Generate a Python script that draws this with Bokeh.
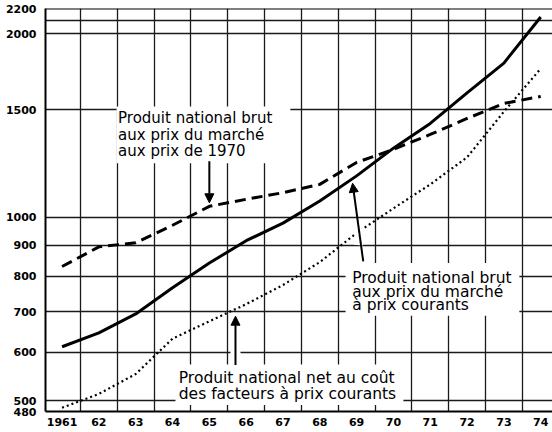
from bokeh.plotting import figure
from bokeh.models import FixedTicker, Label, BoxAnnotation, Arrow, NormalHead, Range1d, Span
from bokeh.embed import file_html
from bokeh.resources import INLINE

# ---- data ----
years = [1961, 1962, 1963, 1964, 1965, 1966, 1967, 1968, 1969, 1970, 1971, 1972, 1973, 1974]
year_labels = ["1961", "62", "63", "64", "65", "66", "67", "68", "69", "70", "71", "72", "73", "74"]
pnb_prix_courants = [613, 646, 694, 766, 841, 915, 978, 1063, 1169, 1298, 1425, 1600, 1790, 2130]
pnb_prix_1970 = [830, 894, 908, 970, 1042, 1070, 1097, 1132, 1230, 1292, 1367, 1452, 1537, 1578]
pnn_cout_facteurs = [487, 513, 553, 632, 675, 720, 774, 844, 942, 1034, 1132, 1254, 1490, 1753]
y_tick_values = [480, 500, 600, 700, 800, 900, 1000, 1500, 2000, 2200]
y_tick_labels = ["480", "500", "600", "700", "800", "900", "1000", "1500", "2000", "2200"]
y_grid_values = [500, 600, 700, 800, 900, 1000, 1500, 2000, 2100]
year_boundaries = [y + 0.5 for y in years[:-1]]

p = figure(width=552, height=432,
           x_range=Range1d(1960.55, 1974.32), y_range=Range1d(480, 2200),
           y_axis_type="log", output_backend="svg", toolbar_location=None,
           min_border_left=45, min_border_right=0, min_border_top=8, min_border_bottom=21)
p.background_fill_color = "white"
p.border_fill_color = "white"
p.outline_line_color = None

# grid
p.xgrid.ticker = FixedTicker(ticks=year_boundaries)
p.ygrid.ticker = FixedTicker(ticks=y_grid_values)
for g in (p.xgrid, p.ygrid):
    g.grid_line_color = "#1a1a1a"
    g.grid_line_width = 1.3

# axes
p.xaxis.ticker = FixedTicker(ticks=years)
p.xaxis.major_label_overrides = {y: l for y, l in zip(years, year_labels)}
p.yaxis.ticker = FixedTicker(ticks=y_tick_values)
p.yaxis.major_label_overrides = {v: l for v, l in zip(y_tick_values, y_tick_labels)}
for ax in (p.xaxis, p.yaxis):
    ax.axis_line_width = 2
    ax.axis_line_color = "black"
    ax.major_tick_in = 0
    ax.major_tick_out = 0
    ax.minor_tick_line_color = None
    ax.major_label_text_font = "DejaVu Sans"
    ax.major_label_text_font_style = "bold"
    ax.major_label_text_font_size = "11px"
    ax.major_label_text_color = "black"
p.yaxis.major_label_standoff = 9
p.xaxis.major_label_standoff = 6

# top frame line
p.add_layout(Span(location=2200, dimension="width", line_color="black", line_width=2))

# series
p.line(years, pnb_prix_courants, line_color="black", line_width=3)
p.line(years, pnb_prix_1970, line_color="black", line_width=3, line_dash="11 6")
p.line(years, pnn_cout_facteurs, line_color="black", line_width=2.2, line_dash="2 3")

# annotation boxes (white, interrupting the grid)
boxes = [
    (1962.48, 1967.2, 1226, 1520),
    (1968.70, 1973.42, 689, 841),
    (1964.08, 1970.27, 492, 573),
]
for l, r, b, t in boxes:
    p.add_layout(BoxAnnotation(left=l, right=r, bottom=b, top=t,
                               fill_color="white", fill_alpha=1.0, line_color=None))

texts = [
    (1962.52, 1456, "Produit national brut", "15px"),
    (1962.52, 1366, "aux prix du marché", "15px"),
    (1962.52, 1282, "aux prix de 1970", "15px"),
    (1968.88, 796, "Produit national brut", "15.5px"),
    (1968.88, 755, "aux prix du marché", "15.5px"),
    (1968.88, 719, "à prix courants", "15.5px"),
    (1964.17, 545, "Produit national net au coût", "15.5px"),
    (1964.17, 513, "des facteurs à prix courants", "15.5px"),
]
for x, y, t, fs in texts:
    p.add_layout(Label(x=x, y=y, text=t, text_font="DejaVu Sans", text_font_size=fs,
                       text_color="black", text_baseline="alphabetic", text_align="left"))

# white halos where arrows cross other lines
p.add_layout(Arrow(end=None, x_start=1965.71, y_start=585, x_end=1965.71, y_end=625,
                   line_color="white", line_width=10))
p.add_layout(Arrow(end=None, x_start=1969.05, y_start=900, x_end=1969.09, y_end=960,
                   line_color="white", line_width=9))

arrows = [
    (1965.0, 1235, 1965.0, 1056),
    (1969.18, 846, 1968.89, 1137),
    (1965.71, 572, 1965.71, 688),
]
for xs, ys, xe, ye in arrows:
    p.add_layout(Arrow(end=NormalHead(size=9, fill_color="black", line_color="black", line_width=1),
                       x_start=xs, y_start=ys, x_end=xe, y_end=ye,
                       line_color="black", line_width=2))

open("out.html", "w").write(file_html(p, INLINE))
